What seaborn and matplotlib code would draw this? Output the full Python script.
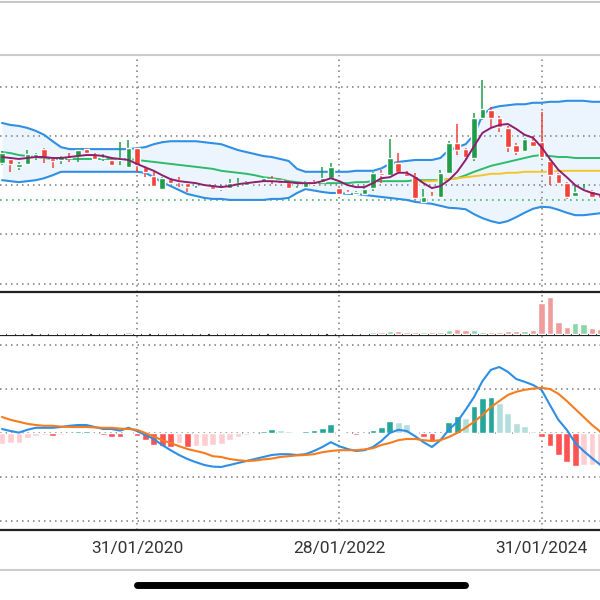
import numpy as np
import pandas as pd
import matplotlib
matplotlib.use("Agg")
import matplotlib.pyplot as plt
from matplotlib.lines import Line2D
import seaborn as sns

sns.set_style("white")
plt.rcParams['font.family'] = ['Roboto', 'DejaVu Sans']

# monthly candles, Sep 2018 .. Aug 2024
months = pd.date_range("2018-09-01", periods=72, freq="MS")
tick_months = ["2020-01", "2022-01", "2024-01"]
tick_labels = ["31/01/2020", "28/01/2022", "31/01/2024"]

opens = [34.5, 35.3, 33.7, 34.3, 35.7, 37.3, 35.5, 35.1, 35.7, 35.9,
         37.3, 36.3, 35.4, 35.1, 35.1, 33.7, 37.5, 33.7, 31.8, 29.2,
         31.2, 31.0, 30.4, 29.3, 29.7, 29.8, 29.3, 29.4, 30.3, 30.0,
         30.4, 30.6, 31.3, 31.0, 30.6, 29.3, 29.6, 30.6, 30.6, 31.4,
         29.4, 28.7, 28.2, 28.2, 29.4, 32.5, 32.0, 34.5, 32.5, 31.8,
         26.6, 27.7, 27.6, 32.5, 38.5, 37.3, 35.5, 43.6, 45.2, 43.6,
         41.6, 38.1, 36.9, 38.9, 38.7, 34.9, 32.3, 30.4, 27.8, 29.0,
         28.8, 28.4]
highs = [36.9, 35.5, 34.7, 37.1, 36.5, 37.5, 35.7, 35.9, 36.5, 37.3,
         37.5, 36.5, 36.3, 35.3, 38.7, 39.1, 37.7, 33.9, 32.7, 31.6,
         31.4, 31.6, 30.6, 29.8, 29.9, 30.0, 30.0, 31.2, 31.4, 30.8,
         30.8, 31.6, 31.8, 31.2, 30.8, 29.9, 30.8, 31.0, 33.7, 34.5,
         29.6, 29.0, 28.8, 29.4, 32.7, 33.1, 39.4, 36.5, 32.9, 32.5,
         29.2, 28.6, 33.1, 38.9, 42.4, 37.5, 44.6, 51.3, 45.8, 44.0,
         42.0, 38.5, 39.6, 40.0, 44.8, 35.3, 32.5, 30.6, 30.0, 30.2,
         29.0, 28.6]
lows = [34.1, 32.7, 33.1, 34.1, 35.1, 34.5, 33.5, 34.3, 34.7, 34.7,
        36.3, 35.1, 34.9, 33.9, 34.1, 33.5, 32.7, 31.6, 29.6, 29.0,
        30.2, 29.6, 28.6, 29.0, 29.4, 29.0, 28.8, 29.2, 29.6, 29.8,
        30.2, 30.4, 30.2, 30.2, 29.2, 29.0, 29.4, 29.8, 30.4, 31.2,
        28.0, 28.2, 28.0, 28.0, 28.8, 30.4, 31.8, 32.5, 31.6, 27.0,
        26.4, 27.4, 27.4, 32.3, 36.1, 35.3, 34.9, 43.2, 41.6, 40.8,
        36.7, 36.1, 36.7, 37.7, 35.5, 30.0, 30.2, 27.2, 27.6, 28.8,
        27.4, 27.0]
closes = [36.5, 34.3, 34.3, 36.3, 36.3, 35.7, 34.9, 35.7, 35.5, 37.1,
          36.5, 35.3, 35.5, 34.1, 35.5, 37.5, 34.1, 32.7, 29.8, 31.4,
          30.4, 30.6, 29.6, 29.5, 29.6, 29.2, 29.5, 30.4, 30.5, 30.6,
          30.5, 31.4, 31.1, 30.4, 29.4, 29.5, 30.6, 30.2, 31.4, 33.7,
          28.2, 28.5, 28.6, 29.2, 32.5, 32.0, 35.5, 32.7, 31.8, 27.4,
          27.6, 27.5, 32.5, 38.5, 37.1, 35.7, 43.6, 45.4, 43.6, 41.8,
          37.7, 36.7, 39.4, 37.9, 35.7, 32.0, 30.4, 27.6, 28.6, 29.1,
          27.6, 27.4]
volumes = [1.3, 1.2, 1.0, 1.4, 1.1, 1.3, 1.2, 1.0, 1.1, 1.3,
           1.2, 1.0, 1.1, 1.2, 1.6, 1.8, 1.5, 1.4, 1.6, 1.3,
           1.1, 1.0, 1.2, 1.0, 1.0, 1.1, 1.0, 1.2, 1.1, 1.0,
           1.0, 1.2, 1.1, 1.0, 1.2, 1.0, 1.3, 1.4, 1.5, 1.6,
           1.2, 1.2, 1.2, 1.4, 2.2, 1.7, 2.7, 2.7, 1.7, 1.7,
           1.7, 1.7, 2.3, 4.0, 4.7, 4.3, 3.7, 2.3, 2.0, 2.3,
           3.0, 2.7, 3.3, 3.7, 31.0, 37.4, 11.7, 7.4, 10.7, 10.0,
           6.0, 5.0]

# bollinger bands (20), short MA and long MA
bb_upper = [42.6, 42.2, 42.0, 41.6, 41.0, 40.2, 38.9, 37.7, 37.3, 37.3,
            37.3, 37.3, 37.3, 37.3, 37.3, 37.3, 37.5, 37.7, 38.3, 38.7,
            38.9, 38.9, 38.9, 38.9, 38.7, 38.5, 38.3, 37.7, 37.1, 36.7,
            36.3, 35.9, 35.7, 35.3, 34.9, 33.3, 32.7, 32.7, 32.7, 32.7,
            32.7, 32.7, 32.9, 32.9, 32.9, 33.4, 34.3, 34.7, 34.9, 35.1,
            35.1, 35.1, 35.5, 37.1, 37.7, 38.3, 40.2, 44.2, 45.6, 46.0,
            46.2, 46.4, 46.4, 46.7, 46.7, 46.9, 46.9, 47.1, 47.1, 47.1,
            46.9, 46.9]
bb_mid = [36.7, 36.5, 36.1, 35.9, 35.7, 35.5, 35.3, 35.3, 35.3, 35.3,
          35.3, 35.3, 35.3, 35.3, 35.3, 35.3, 35.1, 34.9, 34.7, 34.5,
          34.3, 34.1, 33.9, 33.7, 33.5, 33.3, 32.9, 32.7, 32.5, 32.3,
          32.0, 31.6, 31.4, 31.2, 30.8, 30.6, 30.4, 30.4, 30.4, 30.4,
          30.4, 30.4, 30.6, 30.6, 30.8, 30.8, 30.8, 30.8, 30.8, 31.0,
          31.0, 31.0, 31.0, 31.2, 31.4, 32.0, 32.7, 33.3, 33.9, 34.3,
          34.7, 35.1, 35.5, 35.9, 36.1, 35.9, 35.7, 35.7, 35.5, 35.5,
          35.5, 35.5]
bb_lower = [31.0, 30.8, 30.6, 30.8, 31.0, 31.4, 32.0, 32.7, 32.7, 32.7,
            32.7, 32.7, 32.7, 32.7, 32.7, 32.7, 32.7, 32.5, 31.6, 30.6,
            29.8, 29.0, 28.2, 27.8, 27.4, 27.2, 27.2, 27.0, 27.0, 27.0,
            27.0, 27.0, 27.2, 27.2, 27.4, 28.4, 29.2, 28.9, 28.6, 28.4,
            28.4, 28.2, 28.2, 28.0, 27.8, 27.6, 27.4, 27.2, 27.0, 26.6,
            26.4, 26.2, 25.8, 25.4, 25.3, 25.1, 24.1, 23.3, 22.7, 22.3,
            22.7, 23.5, 24.4, 25.2, 25.6, 25.5, 25.0, 24.4, 23.9, 23.9,
            24.1, 24.3]
ma_short = [35.7, 35.5, 35.3, 35.5, 35.7, 35.7, 35.5, 35.5, 35.7, 35.9,
            36.1, 36.1, 35.9, 35.5, 35.3, 35.1, 34.3, 33.6, 32.9, 32.0,
            31.2, 30.8, 30.6, 30.4, 30.0, 29.8, 29.6, 29.8, 30.2, 30.4,
            30.6, 30.8, 30.8, 30.7, 30.6, 30.4, 30.4, 30.4, 30.8, 31.4,
            30.8, 30.0, 29.6, 29.6, 30.4, 31.4, 31.6, 32.5, 32.5, 31.6,
            30.4, 29.4, 29.8, 31.0, 32.7, 35.1, 37.9, 40.6, 41.6, 42.2,
            42.4, 41.4, 40.2, 39.6, 37.7, 35.3, 33.1, 31.6, 30.0, 29.0,
            28.4, 28.0]
ma_long_start = 49
ma_long = [30.6, 30.8, 30.8, 31.0, 31.2, 31.4, 31.6, 31.8, 32.0, 32.3,
           32.3, 32.5, 32.5, 32.7, 32.7, 32.7, 32.7, 32.9, 32.9, 32.9,
           32.9, 32.9, 32.9]
last_price_line = 27.0

# MACD
macd = [0.10, 0.05, 0.01, 0.08, 0.13, 0.13, 0.13, 0.15, 0.18, 0.20,
        0.20, 0.15, 0.10, 0.10, 0.06, 0.13, 0.05, -0.05, -0.15, -0.30,
        -0.43, -0.55, -0.65, -0.73, -0.80, -0.84, -0.85, -0.80, -0.75, -0.70,
        -0.65, -0.60, -0.55, -0.53, -0.53, -0.55, -0.53, -0.45, -0.35, -0.23,
        -0.33, -0.40, -0.45, -0.43, -0.35, -0.20, 0.00, 0.08, 0.05, -0.08,
        -0.23, -0.35, -0.18, 0.08, 0.28, 0.58, 0.90, 1.30, 1.58, 1.65,
        1.53, 1.35, 1.28, 1.20, 1.08, 0.70, 0.33, 0.08, -0.25, -0.45,
        -0.63, -0.80]
signal = [0.40, 0.33, 0.28, 0.23, 0.20, 0.18, 0.18, 0.16, 0.15, 0.15,
          0.15, 0.14, 0.13, 0.13, 0.11, 0.10, 0.08, 0.00, -0.09, -0.18,
          -0.25, -0.33, -0.40, -0.45, -0.50, -0.58, -0.60, -0.65, -0.68, -0.70,
          -0.69, -0.66, -0.64, -0.60, -0.58, -0.56, -0.55, -0.53, -0.48, -0.45,
          -0.43, -0.43, -0.43, -0.41, -0.38, -0.30, -0.25, -0.18, -0.15, -0.15,
          -0.18, -0.20, -0.18, -0.10, 0.00, 0.13, 0.28, 0.45, 0.65, 0.80,
          0.95, 1.03, 1.08, 1.11, 1.13, 1.10, 0.98, 0.80, 0.60, 0.40,
          0.20, 0.03]
hist = [-0.28, -0.25, -0.25, -0.13, -0.08, -0.06, -0.08, -0.04, -0.03, 0.04,
        0.05, -0.03, -0.04, -0.10, -0.11, 0.03, -0.08, -0.18, -0.30, -0.33,
        -0.35, -0.25, -0.36, -0.33, -0.33, -0.30, -0.28, -0.18, -0.10, -0.05,
        0.01, 0.05, 0.10, 0.08, 0.04, 0.03, 0.05, 0.08, 0.13, 0.23,
        0.03, 0.01, -0.05, -0.01, 0.08, 0.15, 0.30, 0.28, 0.23, 0.03,
        -0.10, -0.20, -0.03, 0.28, 0.43, 0.38, 0.68, 0.88, 0.89, 0.75,
        0.50, 0.25, 0.18, 0.05, -0.10, -0.33, -0.55, -0.73, -0.83, -0.80,
        -0.80, -0.78]

GREEN = "#1e9e4a"
RED = "#f2433a"
GRID = dict(color="#7a7a7a", linestyle=(0, (1, 2.6)), linewidth=1.1)

x = np.arange(len(opens))
o, h, l, c = (np.array(v) for v in (opens, highs, lows, closes))
up = c >= o
candle_colors = np.where(up, GREEN, RED)
month_str = [m.strftime("%Y-%m") for m in months]
tick_pos = [month_str.index(t) for t in tick_months]
xlim = (-0.24, 70.94)

fig = plt.figure(figsize=(6, 6), dpi=100)
ax_p = fig.add_axes([0, 1 - 292 / 600, 1, 237 / 600])
ax_v = fig.add_axes([0, 1 - 335 / 600, 1, 43 / 600])
ax_m = fig.add_axes([0, 1 - 530 / 600, 1, 195 / 600])

# --- price panel ---
ax_p.fill_between(x, bb_lower, bb_upper, color="#ecf5fd", zorder=0.5, lw=0)
sns.lineplot(x=x, y=bb_upper, ax=ax_p, color="#2f8fe2", lw=1.5, zorder=2)
sns.lineplot(x=x, y=bb_lower, ax=ax_p, color="#2f8fe2", lw=1.5, zorder=2)
sns.lineplot(x=x, y=bb_mid, ax=ax_p, color="#2dbb6a", lw=1.4, zorder=2)
sns.lineplot(x=x[ma_long_start:], y=ma_long, ax=ax_p, color="#f4c52a", lw=1.4, zorder=2)
ax_p.axhline(last_price_line, color="#3db86a", linestyle=(0, (1, 2.6)), lw=1.2, zorder=1.5)
ax_p.vlines(x, l, h, colors=candle_colors, lw=1.1, zorder=3)
ax_p.bar(x, np.maximum(np.abs(c - o), 0.2), bottom=np.minimum(o, c), width=0.65,
         color=candle_colors, zorder=3.2)
sns.lineplot(x=x, y=ma_short, ax=ax_p, color="#8e1f6f", lw=1.4, zorder=3.5)
ax_p.set_ylim(8.32, 56.39)
ax_p.set_yticks([10, 20, 30, 40, 50])

# --- volume panel ---
vol_colors = np.where(up, "#8fd4a6", "#f09c9c")
ax_v.bar(x, volumes, width=0.75, color=vol_colors, zorder=3)
ax_v.set_ylim(-0.9, 42.2)
ax_v.set_yticks([])

# --- MACD panel ---
hv = np.array(hist)
prev = np.r_[hv[0] - 0.01, hv[:-1]]
hist_colors = np.where(hv >= 0,
                       np.where(hv >= prev, "#26a69a", "#b2dfdb"),
                       np.where(hv < prev, "#ff5252", "#ffcdd2"))
ax_m.bar(x, hv, width=0.8, color=hist_colors, zorder=2)
sns.lineplot(x=x, y=macd, ax=ax_m, color="#2d8ee6", lw=1.5, zorder=3)
sns.lineplot(x=x, y=signal, ax=ax_m, color="#f57c1f", lw=1.5, zorder=3)
ax_m.set_ylim(-2.425, 2.45)
ax_m.set_yticks([-2.2, -1.1, 0, 1.1, 2.2])

for ax in (ax_p, ax_v, ax_m):
    ax.set_xlim(*xlim)
    ax.set_xticks(tick_pos)
    ax.set_xlabel("")
    ax.set_ylabel("")
    ax.tick_params(length=0, labelleft=False, labelbottom=False)
    ax.grid(True, axis="x", **GRID)
    ax.set_facecolor("none")
    for s in ("left", "right", "top"):
        ax.spines[s].set_visible(False)
    ax.spines["bottom"].set_color("#222222")
    ax.spines["bottom"].set_linewidth(1.6)
    ax.set_axisbelow(True)

ax_p.grid(True, axis="y", **GRID)
ax_m.grid(True, axis="y", **GRID)
ax_p.spines["top"].set_visible(True)
ax_p.spines["top"].set_color("#cccccc")
ax_p.spines["top"].set_linewidth(1.5)

ax_m.tick_params(labelbottom=True, pad=8)
ax_m.set_xticklabels(tick_labels, fontsize=12.5, color="#333333")

# screen chrome
fig.add_artist(Line2D([0, 1], [1 - 2 / 600] * 2, color="#c8c8c8", lw=1.5))
fig.add_artist(Line2D([0, 1], [1 - 570 / 600] * 2, color="#cccccc", lw=1.5))
fig.add_artist(Line2D([137 / 600, 465 / 600], [1 - 585 / 600] * 2, color="black",
                      lw=5, solid_capstyle="round"))

fig.savefig("out.png", dpi=100)
